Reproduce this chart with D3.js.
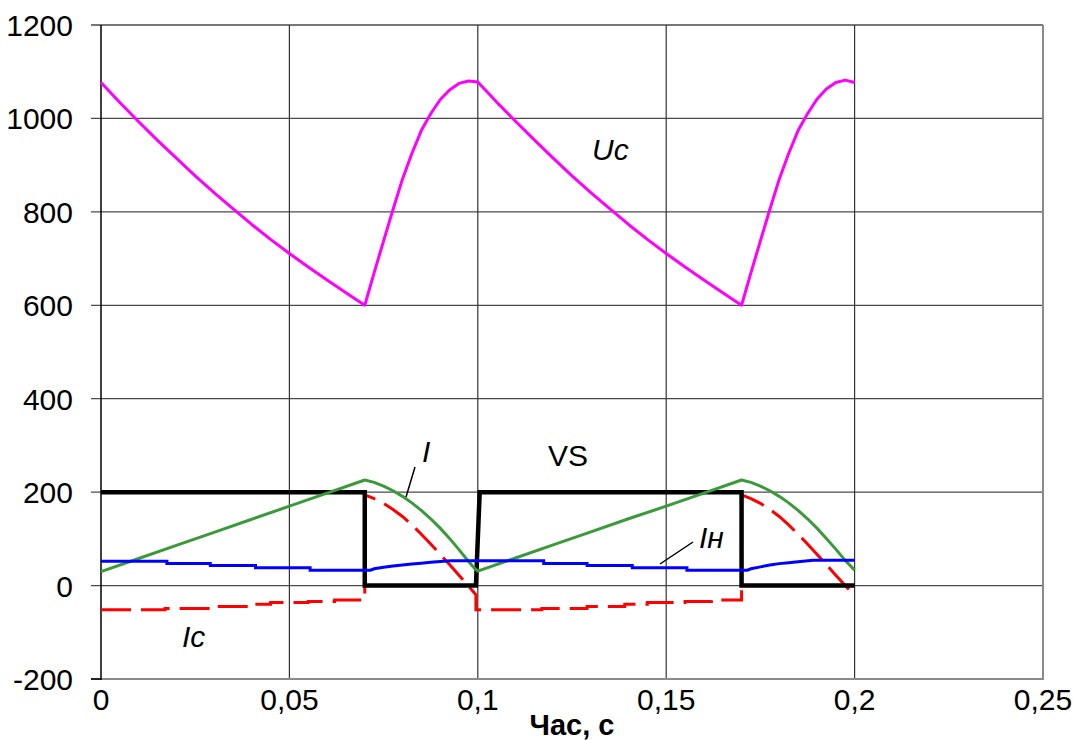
<!DOCTYPE html>
<html>
<head>
<meta charset="utf-8">
<script src="https://cdn.jsdelivr.net/npm/d3@7"></script>
<style>
  html, body { margin: 0; padding: 0; background: #fff; }
  svg { display: block; }
  text { font-family: "Liberation Sans", Arial, sans-serif; fill: #000; }
</style>
</head>
<body>
<svg id="chart" width="1082" height="740"></svg>
<script>
// Time axis (s) and value axis tick values
const timeTicks = [0, 0.05, 0.1, 0.15, 0.2, 0.25];
const valueTicks = [-200, 0, 200, 400, 600, 800, 1000, 1200];

// Capacitor voltage Uc, [t, value]
const ucPoints = [
  [0, 1077], [0.005, 1034], [0.01, 993], [0.015, 953], [0.02, 915], [0.025, 877],
  [0.03, 841], [0.035, 807], [0.04, 773], [0.045, 741], [0.05, 711], [0.055, 682],
  [0.06, 654], [0.065, 627], [0.07, 600], [0.0725, 670], [0.075, 738], [0.0775, 805],
  [0.08, 870], [0.0825, 925], [0.085, 974], [0.0875, 1010], [0.09, 1040], [0.0925, 1061],
  [0.095, 1075], [0.0975, 1080], [0.1, 1078],
  [0.105, 1035], [0.11, 994], [0.115, 954], [0.12, 915], [0.125, 877], [0.13, 841],
  [0.135, 807], [0.14, 773], [0.145, 741], [0.15, 711], [0.155, 682], [0.16, 654],
  [0.165, 627], [0.17, 600], [0.1725, 670], [0.175, 738], [0.1775, 805], [0.18, 870],
  [0.1825, 925], [0.185, 974], [0.1875, 1010], [0.19, 1041], [0.1925, 1063],
  [0.195, 1077], [0.1975, 1082], [0.2, 1077]
];

// Total current I
const iPoints = [
  [0, 30], [0.01, 58], [0.02, 86], [0.03, 114], [0.04, 142], [0.05, 170], [0.06, 198],
  [0.07, 226], [0.0725, 221], [0.075, 213], [0.0775, 203], [0.08, 191], [0.0825, 177],
  [0.085, 161], [0.0875, 143], [0.09, 123], [0.0925, 101], [0.095, 77], [0.0975, 52],
  [0.099, 38], [0.1, 31],
  [0.11, 59], [0.12, 87], [0.13, 115], [0.14, 143], [0.15, 170], [0.16, 198],
  [0.17, 226], [0.1725, 221], [0.175, 213], [0.1775, 203], [0.18, 191], [0.1825, 177],
  [0.185, 161], [0.1875, 143], [0.19, 123], [0.1925, 101], [0.195, 78], [0.1975, 54],
  [0.2, 33]
];

// Load current Iн
const loadPoints = [
  [0, 52], [0.0175, 52], [0.0175, 47], [0.029, 47], [0.029, 43], [0.041, 43],
  [0.041, 38], [0.0555, 38], [0.0555, 33], [0.07, 33],
  [0.0715, 33], [0.0725, 36], [0.075, 39], [0.0775, 42], [0.08, 44], [0.0825, 46],
  [0.085, 48], [0.0875, 50], [0.09, 51.5], [0.093, 53], [0.1, 53],
  [0.1175, 53], [0.1175, 47], [0.129, 47], [0.129, 43], [0.141, 43],
  [0.141, 38], [0.1555, 38], [0.1555, 33], [0.17, 33],
  [0.1715, 33], [0.1725, 36], [0.175, 40], [0.1775, 44], [0.18, 47], [0.1825, 49],
  [0.185, 51], [0.189, 54], [0.2, 54]
];

// Capacitor current Ic
const icPoints = [
  [0, -52], [0.017, -52], [0.017, -49], [0.029, -49], [0.029, -45], [0.039, -45],
  [0.039, -40], [0.045, -40], [0.045, -36], [0.055, -36], [0.055, -34], [0.062, -34],
  [0.062, -31], [0.07, -31], [0.07, 194], [0.0725, 186], [0.075, 176], [0.0775, 163],
  [0.08, 148], [0.0825, 130], [0.085, 110], [0.0875, 89], [0.09, 67], [0.0925, 45],
  [0.095, 22], [0.0975, -1], [0.099, -15], [0.0995, -20],
  [0.0995, -52], [0.117, -52], [0.117, -49], [0.129, -49], [0.129, -45], [0.139, -45],
  [0.139, -40], [0.145, -40], [0.145, -36], [0.155, -36], [0.155, -34], [0.162, -34],
  [0.162, -31], [0.17, -31], [0.17, 194], [0.1725, 186], [0.175, 176], [0.1775, 163],
  [0.18, 148], [0.1825, 130], [0.185, 110], [0.1875, 89], [0.19, 67], [0.1925, 45],
  [0.195, 22], [0.1975, 0], [0.2, -22]
];

// Thyristor control signal VS
const vsPoints = [
  [0, 200], [0.07, 200], [0.07, 0], [0.0995, 0], [0.1005, 200],
  [0.17, 200], [0.17, 0], [0.2, 0]
];

const fmt = d3.formatLocale({ decimal: ",", thousands: " ", grouping: [3], currency: ["", ""] }).format("~g");

const svg = d3.select("#chart");
const plotLeft = 101, plotRight = 1043, plotTop = 25, plotBottom = 679;

const x = d3.scaleLinear().domain([0, 0.25]).range([plotLeft, plotRight]);
const y = d3.scaleLinear().domain([-200, 1200]).range([plotBottom, plotTop]);

// Grid
svg.append("g").selectAll("line").data(valueTicks.filter(v => v !== -200)).join("line")
  .attr("x1", plotLeft - 10).attr("x2", plotRight)
  .attr("y1", d => y(d)).attr("y2", d => y(d))
  .attr("stroke", "#4a4a4a").attr("stroke-width", 1.3);
svg.append("g").selectAll("line").data(timeTicks.filter(v => v > 0 && v < 0.25)).join("line")
  .attr("x1", d => x(d)).attr("x2", d => x(d))
  .attr("y1", plotTop).attr("y2", plotBottom)
  .attr("stroke", "#333").attr("stroke-width", 1.2);

// Frame: gray bottom and right edges, black value axis
svg.append("line").attr("x1", plotLeft - 10).attr("x2", plotRight + 1).attr("y1", plotBottom).attr("y2", plotBottom)
  .attr("stroke", "#8a8a8a").attr("stroke-width", 2);
svg.append("line").attr("x1", plotRight).attr("x2", plotRight).attr("y1", plotTop).attr("y2", plotBottom)
  .attr("stroke", "#8a8a8a").attr("stroke-width", 2);
svg.append("line").attr("x1", plotLeft).attr("x2", plotLeft).attr("y1", plotTop).attr("y2", plotBottom + 1)
  .attr("stroke", "#000").attr("stroke-width", 1.5);
svg.append("line").attr("x1", plotLeft - 10).attr("x2", plotLeft).attr("y1", plotBottom).attr("y2", plotBottom)
  .attr("stroke", "#000").attr("stroke-width", 1.5);

// Tick labels
svg.append("g").selectAll("text").data(valueTicks).join("text")
  .attr("x", 73).attr("y", d => y(d) + 11)
  .attr("text-anchor", "end").attr("font-size", 30)
  .text(d => String(d));
svg.append("g").selectAll("text").data(timeTicks).join("text")
  .attr("x", d => x(d)).attr("y", 710)
  .attr("text-anchor", "middle").attr("font-size", 30)
  .text(d => fmt(d));

svg.append("text").attr("x", (plotLeft + plotRight) / 2).attr("y", 735)
  .attr("text-anchor", "middle").attr("font-size", 29).attr("font-weight", "bold")
  .text("Час, с");

// Series (Ic under the VS step so its jumps hide behind the thick line)
const line = d3.line().x(d => x(d[0])).y(d => y(d[1]));
const plot = svg.append("g");

plot.append("path").datum(icPoints).attr("d", line)
  .attr("fill", "none").attr("stroke", "#ff0000").attr("stroke-width", 3)
  .attr("stroke-dasharray", "30,10");
plot.append("path").datum(vsPoints).attr("d", line)
  .attr("fill", "none").attr("stroke", "#000").attr("stroke-width", 4.5)
  .attr("stroke-linejoin", "miter");
plot.append("path").datum(iPoints).attr("d", line)
  .attr("fill", "none").attr("stroke", "#3a9a3a").attr("stroke-width", 3)
  .attr("stroke-linejoin", "round");
plot.append("path").datum(loadPoints).attr("d", line)
  .attr("fill", "none").attr("stroke", "#0000ff").attr("stroke-width", 3);
plot.append("path").datum(ucPoints).attr("d", line)
  .attr("fill", "none").attr("stroke", "#ff00ff").attr("stroke-width", 3)
  .attr("stroke-linejoin", "round");

// Series labels and leaders
const labels = [
  { text: "Uc", x: 592, y: 160, italic: true },
  { text: "VS", x: 548, y: 466, italic: false },
  { text: "I", x: 422, y: 462, italic: true },
  { text: "Iн", x: 699, y: 548, italic: true },
  { text: "Ic", x: 182, y: 647, italic: true }
];
svg.append("g").selectAll("text").data(labels).join("text")
  .attr("x", d => d.x).attr("y", d => d.y)
  .attr("font-size", 30)
  .attr("font-style", d => d.italic ? "italic" : "normal")
  .text(d => d.text);

const leaders = [
  [[406, 497], [415, 467]],
  [[660, 564], [693, 542]]
];
svg.append("g").selectAll("line").data(leaders).join("line")
  .attr("x1", d => d[0][0]).attr("y1", d => d[0][1])
  .attr("x2", d => d[1][0]).attr("y2", d => d[1][1])
  .attr("stroke", "#000").attr("stroke-width", 1.5);
</script>
</body>
</html>
